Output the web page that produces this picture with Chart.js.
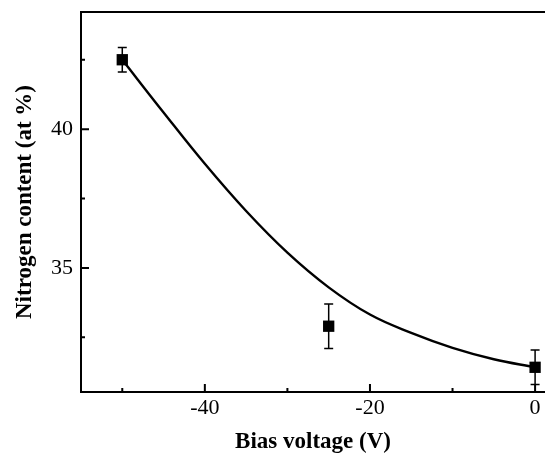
<!DOCTYPE html>
<html>
<head>
<meta charset="utf-8">
<script src="https://cdn.jsdelivr.net/npm/chart.js@4/dist/chart.umd.min.js"></script>
<style>
  html, body { margin: 0; padding: 0; background: #fff; }
</style>
</head>
<body>
<canvas id="chartNitrogeno" width="545" height="456"></canvas>
<script>
const biasVoltage = [-50, -25, 0];
const nitrogenContent = [42.5, 32.9, 31.42];
const nitrogenError = [0.44, 0.8, 0.62];

// Curva de ajuste
const fitVoltage = [-50, -45, -40, -35, -30, -25, -20, -15, -10, -5, 0];
const fitContent = [42.5, 40.6, 38.75, 37.05, 35.55, 34.3, 33.32, 32.66, 32.12, 31.71, 31.42];

// Marcas de los ejes
const xMajorTicks = [-40, -20, 0];
const xMinorTicks = [-50, -30, -10];
const yMajorTicks = [35, 40];
const yMinorTicks = [32.5, 37.5, 42.5];

const fuente = "'Liberation Serif', 'Times New Roman', serif";

/**
 * Barras de error, marcas hacia dentro y línea superior
 */
const pluginDecoracion = {
  id: 'decoracion',
  afterDatasetsDraw(chart) {
    const { ctx, chartArea, scales } = chart;
    const x = scales.x;
    const y = scales.y;

    ctx.save();
    ctx.strokeStyle = '#000';

    // barras de error
    ctx.lineWidth = 1.5;
    biasVoltage.forEach((v, i) => {
      const px = x.getPixelForValue(v);
      const top = y.getPixelForValue(nitrogenContent[i] + nitrogenError[i]);
      const bot = y.getPixelForValue(nitrogenContent[i] - nitrogenError[i]);
      ctx.beginPath();
      ctx.moveTo(px, top);
      ctx.lineTo(px, bot);
      ctx.moveTo(px - 4.5, top);
      ctx.lineTo(px + 4.5, top);
      ctx.moveTo(px - 4.5, bot);
      ctx.lineTo(px + 4.5, bot);
      ctx.stroke();
    });

    // marcas hacia dentro
    ctx.lineWidth = 2;
    ctx.beginPath();
    xMajorTicks.concat(xMinorTicks).forEach(v => {
      const px = x.getPixelForValue(v);
      const len = xMajorTicks.includes(v) ? 8 : 4;
      ctx.moveTo(px, chartArea.bottom);
      ctx.lineTo(px, chartArea.bottom - len);
    });
    yMajorTicks.concat(yMinorTicks).forEach(v => {
      const py = y.getPixelForValue(v);
      const len = yMajorTicks.includes(v) ? 8 : 4;
      ctx.moveTo(chartArea.left, py);
      ctx.lineTo(chartArea.left + len, py);
    });
    ctx.stroke();

    // línea superior
    ctx.beginPath();
    ctx.moveTo(chartArea.left - 1, chartArea.top);
    ctx.lineTo(chart.width, chartArea.top);
    ctx.stroke();
    ctx.restore();
  }
};

const ctx = document.getElementById('chartNitrogeno');

const chartNitrogeno = new Chart(ctx, {
  type: 'scatter',
  data: {
    datasets: [
      {
        label: 'Ajuste',
        type: 'line',
        data: fitVoltage.map((v, i) => ({ x: v, y: fitContent[i] })),
        borderColor: '#000',
        borderWidth: 2.4,
        pointRadius: 0,
        tension: 0.4,
        fill: false
      },
      {
        label: 'Nitrógeno',
        data: biasVoltage.map((v, i) => ({ x: v, y: nitrogenContent[i] })),
        pointStyle: 'rect',
        pointRadius: 8,
        pointBackgroundColor: '#000',
        pointBorderColor: '#000',
        pointBorderWidth: 0
      }
    ]
  },
  options: {
    responsive: false,
    animation: false,
    layout: { autoPadding: false, padding: { top: 12, right: 0, left: 0, bottom: 0 } },
    plugins: {
      legend: { display: false },
      tooltip: { enabled: false }
    },
    scales: {
      x: {
        type: 'linear',
        min: -55,
        max: 1.2,
        afterBuildTicks: s => { s.ticks = xMajorTicks.map(v => ({ value: v })); },
        afterFit: s => {
          s.height = 64;
          s.paddingLeft = 0;
          s.paddingRight = 0;
        },
        grid: { display: false, drawTicks: false },
        border: { display: true, color: '#000', width: 2 },
        ticks: {
          color: '#000',
          padding: 3,
          maxRotation: 0,
          font: { family: fuente, size: 22 }
        },
        title: {
          display: true,
          text: 'Bias voltage (V)',
          color: '#000',
          padding: { top: 0, bottom: 0 },
          font: { family: fuente, size: 23, weight: 'bold' }
        }
      },
      y: {
        type: 'linear',
        min: 30.53,
        max: 44.22,
        afterBuildTicks: s => { s.ticks = yMajorTicks.map(v => ({ value: v })); },
        afterFit: s => {
          s.width = 81;
          s.paddingTop = 0;
          s.paddingBottom = 0;
        },
        grid: { display: false, drawTicks: false },
        border: { display: true, color: '#000', width: 2 },
        ticks: {
          color: '#000',
          padding: 8,
          font: { family: fuente, size: 22 }
        },
        title: {
          display: true,
          text: 'Nitrogen content (at %)',
          color: '#000',
          padding: { top: 11, bottom: 0 },
          font: { family: fuente, size: 23, weight: 'bold' }
        }
      }
    }
  },
  plugins: [pluginDecoracion]
});
</script>
</body>
</html>
